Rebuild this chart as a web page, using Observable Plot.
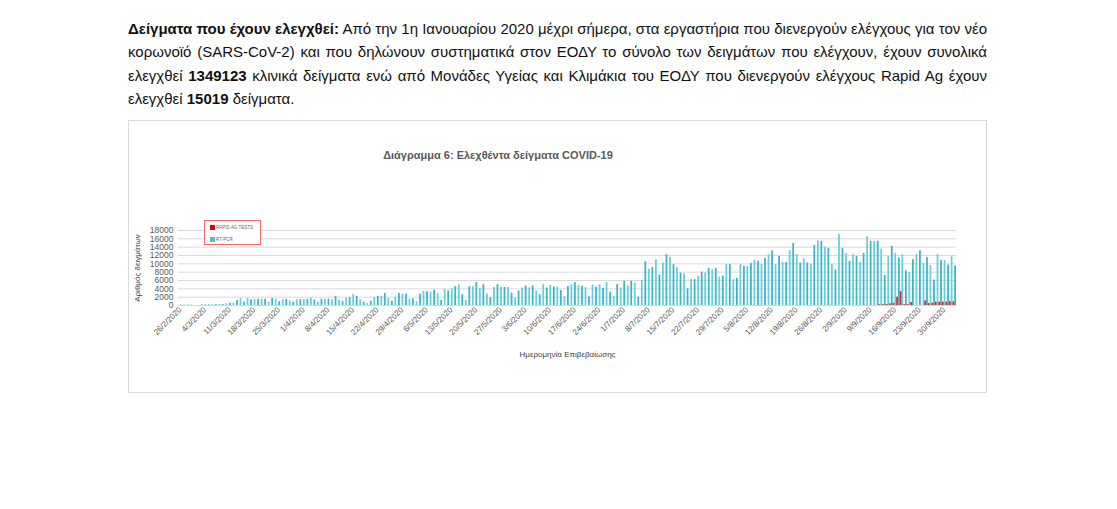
<!DOCTYPE html>
<html><head><meta charset="utf-8">
<script src="https://cdn.jsdelivr.net/npm/d3@7"></script>
<script src="https://cdn.jsdelivr.net/npm/@observablehq/plot@0.6"></script>
<style>
body{margin:0;background:#fff;width:1117px;height:509px;position:relative;overflow:hidden;font-family:"Liberation Sans Narrow","Liberation Sans",sans-serif;}
#para{position:absolute;left:128px;top:17px;width:859px;font-size:15px;line-height:23.4px;color:#111;}
#para div{text-align:justify;text-align-last:justify;}
#para div.last{text-align-last:left;}
#box{position:absolute;left:128px;top:120px;width:857px;height:271px;border:1px solid #d9d9d9;background:#fff;}
#chart{position:absolute;left:0;top:0;}
#title{position:absolute;left:0;width:996px;top:149px;text-align:center;font-weight:bold;font-size:11px;color:#595959;font-family:"Liberation Sans Narrow","Liberation Sans",sans-serif;}
#legend{position:absolute;left:204px;top:220px;width:55px;height:23px;border:1px solid #f26b6b;background:#fff;font-family:"Liberation Sans",sans-serif;font-size:4.5px;color:#666;}
.sw{position:absolute;width:5px;height:5px;}
.lt{position:absolute;white-space:nowrap;line-height:5px;}
</style></head>
<body>
<div id="para">
<div><b>Δείγματα που έχουν ελεγχθεί:</b> Από την 1η Ιανουαρίου 2020 μέχρι σήμερα, στα εργαστήρια που διενεργούν ελέγχους για τον νέο</div>
<div>κορωνοϊό (SARS-CoV-2) και που δηλώνουν συστηματικά στον ΕΟΔΥ το σύνολο των δειγμάτων που ελέγχουν, έχουν συνολικά</div>
<div>ελεγχθεί <b>1349123</b> κλινικά δείγματα ενώ από Μονάδες Υγείας και Κλιμάκια του ΕΟΔΥ που διενεργούν ελέγχους Rapid Ag έχουν</div>
<div class="last">ελεγχθεί <b>15019</b> δείγματα.</div>
</div>
<div id="box"><div id="chart"></div></div>
<div id="title">Διάγραμμα 6: Ελεχθέντα δείγματα COVID-19</div>
<div id="legend">
  <div class="sw" style="left:5px;top:4px;background:#e00000"></div><div class="lt" style="left:11px;top:4px">RAPID AG TESTS</div>
  <div class="sw" style="left:5px;top:16px;background:#4bbfd2"></div><div class="lt" style="left:11px;top:16px">RT-PCR</div>
</div>
<script>
// Categories: daily dates 26/2/2020 .. 3/10/2020
const startDate = new Date(Date.UTC(2020, 1, 26));
const endDate = new Date(Date.UTC(2020, 9, 4));
const fmt = d => `${d.getUTCDate()}/${d.getUTCMonth() + 1}/${d.getUTCFullYear()}`;
const dates = d3.utcDay.range(startDate, endDate).map(fmt);

// RT-PCR daily samples
const pcrValues = [
  100, 120, 100, 150, 0, 0, 150, 200, 180, 200,
  220, 250, 200, 400, 550, 600, 1200, 1700, 800, 1700,
  1400, 1500, 1500, 1500, 1500, 800, 1700, 1500, 900, 1400,
  1500, 1100, 800, 1400, 1400, 1400, 1500, 1800, 1300, 800,
  1500, 1500, 1500, 1400, 2200, 1300, 900, 1700, 1900, 2600,
  2200, 1400, 800, 500, 1000, 1900, 2200, 2200, 2900, 1700,
  1000, 2000, 2900, 2700, 2700, 1500, 1600, 900, 2700, 3400,
  3300, 3200, 3700, 2800, 1200, 3800, 3500, 4000, 4500, 4900,
  2600, 1300, 4500, 4500, 5500, 4100, 5000, 2800, 1900, 4300,
  5000, 4400, 4300, 4300, 3000, 1800, 3500, 4200, 4700, 4200,
  4700, 3500, 2600, 5000, 4200, 4800, 4400, 4400, 3600, 2100,
  4600, 5000, 5500, 4800, 4600, 4300, 2100, 4900, 4400, 5000,
  4100, 5500, 3200, 2200, 5000, 4200, 5800, 4700, 5800, 5400,
  2000, 6000, 10500, 8700, 9100, 11000, 7300, 10200, 12200, 11500,
  9800, 9100, 7800, 7600, 4000, 6200, 6200, 7000, 8000, 7800,
  8900, 8600, 8900, 6800, 7100, 9800, 9800, 6200, 6500, 9800,
  9400, 9400, 10100, 10800, 10600, 9800, 11300, 12200, 13100, 9800,
  11800, 10300, 10300, 13200, 14900, 12200, 10200, 11200, 10200, 9800,
  14400, 15500, 15400, 14000, 13700, 9800, 8500, 17000, 13700, 12500,
  10600, 12200, 11800, 10300, 12500, 16500, 15400, 15400, 15400, 13500,
  7200, 11800, 14200, 12500, 11400, 12200, 8300, 7900, 11000, 12200,
  13100, 10100, 11500, 9600, 6100, 12200, 10800, 10800, 9700, 11700, 9500
];

// Rapid Ag tests
const rapidDates = ["12/9/2020","13/9/2020","14/9/2020","15/9/2020","16/9/2020","17/9/2020","18/9/2020","19/9/2020","20/9/2020","21/9/2020",
  "25/9/2020","26/9/2020","27/9/2020","28/9/2020","29/9/2020","30/9/2020","1/10/2020","2/10/2020","3/10/2020"];
const rapidValues = [200, 200, 250, 400, 550, 2000, 3300, 200, 200, 700,
  1100, 450, 550, 800, 800, 800, 800, 900, 900];

const yTicks = [0, 2000, 4000, 6000, 8000, 10000, 12000, 14000, 16000, 18000];
const tickLabels = dates.filter((d, i) => i % 7 === 0);

const pcr = dates.map((d, i) => ({date: d, value: pcrValues[i], i}));
const rapid = rapidDates.map((d, i) => ({date: d, value: rapidValues[i]}));

const W = 857, H = 271, mL = 49, mR = 30;
const band = (W - mL - mR) / dates.length;

const chart = Plot.plot({
  width: W, height: H,
  marginLeft: mL, marginRight: mR, marginTop: 109, marginBottom: 87,
  style: {fontFamily: "Liberation Sans, sans-serif", background: "transparent", color: "#595959"},
  x: {type: "band", domain: dates, padding: 0, round: false, axis: null},
  y: {domain: [0, 18000], axis: null},
  marks: [
    Plot.ruleY(yTicks, {stroke: "#d9d9d9", strokeWidth: 1}),
    Plot.barY(pcr.filter(d => d.i % 2 === 0), {x: "date", y: "value", fill: "#3db3c9", insetLeft: band / 2, insetRight: 0}),
    Plot.barY(pcr.filter(d => d.i % 2 === 1), {x: "date", y: "value", fill: "#62d0dd", insetLeft: band / 2, insetRight: 0}),
    Plot.barY(rapid, {x: "date", y: "value", fill: "#e32424", insetLeft: 0, insetRight: band / 2}),
    Plot.axisY({ticks: yTicks, tickSize: 0, tickPadding: 5, fontSize: 8.5, fill: "#595959", label: null, tickFormat: d => String(d)}),
    Plot.axisX({ticks: tickLabels, tickRotate: -45, tickSize: 0, tickPadding: 3, fontSize: 8, fill: "#595959", label: null}),
    Plot.text(["Αριθμός δειγμάτων"], {frameAnchor: "left", dx: -41, rotate: -90, textAnchor: "middle", lineAnchor: "middle", fontSize: 8, fill: "#404040"}),
    Plot.text(["Ημερομηνία Επιβεβαίωσης"], {frameAnchor: "bottom", dy: 49, textAnchor: "middle", lineAnchor: "middle", fontSize: 8, fill: "#404040"})
  ]
});
document.getElementById("chart").appendChild(chart);
</script>
</body></html>
